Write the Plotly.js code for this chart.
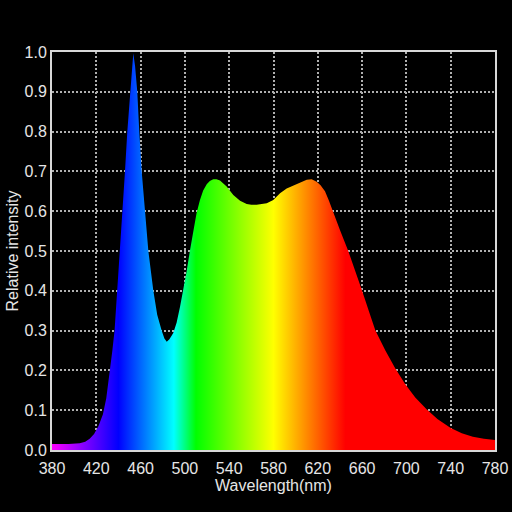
<!DOCTYPE html>
<html>
<head>
<meta charset="utf-8">
<script src="https://cdn.plot.ly/plotly-3.0.1.min.js"></script>
<style>html,body{margin:0;padding:0;background:#000;}#chart{width:512px;height:512px;}</style>
</head>
<body>
<div id="chart"></div>
<script>
// Wavelength (nm) and relative intensity readings
var wavelength = [380,395,405,410,414,418,422,426,429,432,434.5,436.5,439,441.4,443.8,445.9,448,450.4,452,453.4,455,457,458.8,461,464,467,471.5,475,479,481.5,483.6,486,489.5,492.5,495.6,498.5,501.6,504.5,507.6,510.5,513.6,516.5,519.7,522.5,525.6,528.5,531.7,537.7,543.7,549.8,555.8,560,564.8,569,573.9,579.8,585.9,591.9,596,600.9,605,610,614.5,619,622.5,626.5,630,633.4,640,647.5,654,660,666,672,681,690,699,708,718,728,740,750,760,770,780];
var intensity = [0.015,0.015,0.017,0.021,0.028,0.04,0.06,0.09,0.13,0.19,0.25,0.30,0.40,0.50,0.60,0.70,0.80,0.90,0.965,0.997,0.965,0.90,0.80,0.70,0.60,0.50,0.40,0.34,0.30,0.28,0.272,0.278,0.294,0.32,0.36,0.40,0.45,0.50,0.55,0.595,0.628,0.652,0.668,0.676,0.680,0.680,0.677,0.662,0.641,0.626,0.618,0.616,0.616,0.617,0.620,0.628,0.645,0.657,0.662,0.666,0.671,0.679,0.680,0.674,0.665,0.65,0.627,0.60,0.553,0.50,0.45,0.40,0.35,0.30,0.25,0.205,0.165,0.132,0.103,0.078,0.055,0.042,0.033,0.028,0.025];
var xTicks = [380,420,460,500,540,580,620,660,700,740,780];
var yTicks = [0,0.1,0.2,0.3,0.4,0.5,0.6,0.7,0.8,0.9,1.0];

// spectrum colours (wavelength -> RGB stops)
var spectrumStops = [[380,'#ff00ff'],[440,'#0000ff'],[490,'#00ffff'],[510,'#00ff00'],[580,'#ffff00'],[645,'#ff0000'],[780,'#ff0000']];
var colorscale = spectrumStops.map(function(s){return [(s[0]-380)/400, s[1]];});

var trace = {
  x: wavelength, y: intensity, type: 'scatter', mode: 'lines',
  line: {shape: 'linear', width: 0, color: 'rgba(0,0,0,0)'},
  fill: 'tozeroy',
  fillgradient: {type: 'horizontal', start: 380, stop: 780, colorscale: colorscale},
  hoverinfo: 'skip'
};

var axisFont = {family: 'Liberation Sans, Arial, sans-serif', size: 16, color: '#e6e6e6'};
var layout = {
  width: 512, height: 512,
  paper_bgcolor: '#000', plot_bgcolor: '#000',
  margin: {l: 52, r: 17, t: 52, b: 62},
  showlegend: false,
  font: axisFont,
  xaxis: {
    range: [380, 780], tickvals: xTicks, ticktext: xTicks.map(String),
    showgrid: true, gridcolor: '#b0b0b0', gridwidth: 2, griddash: '2px,2px',
    showline: true, linecolor: '#d8d8d8', linewidth: 2, mirror: true,
    ticks: '', zeroline: false, tickfont: axisFont, ticklabelstandoff: 3,
    title: {text: 'Wavelength(nm)', font: axisFont, standoff: 2}
  },
  yaxis: {
    range: [0, 1], tickvals: yTicks, ticktext: yTicks.map(function(v){return v.toFixed(1);}),
    showgrid: true, gridcolor: '#b0b0b0', gridwidth: 2, griddash: '2px,2px',
    showline: true, linecolor: '#d8d8d8', linewidth: 2, mirror: true,
    ticks: '', zeroline: false, tickfont: axisFont,
    title: {text: 'Relative intensity', font: axisFont, standoff: 2}
  }
};
Plotly.newPlot('chart', [trace], layout, {displayModeBar: false, staticPlot: true});
</script>
</body>
</html>
